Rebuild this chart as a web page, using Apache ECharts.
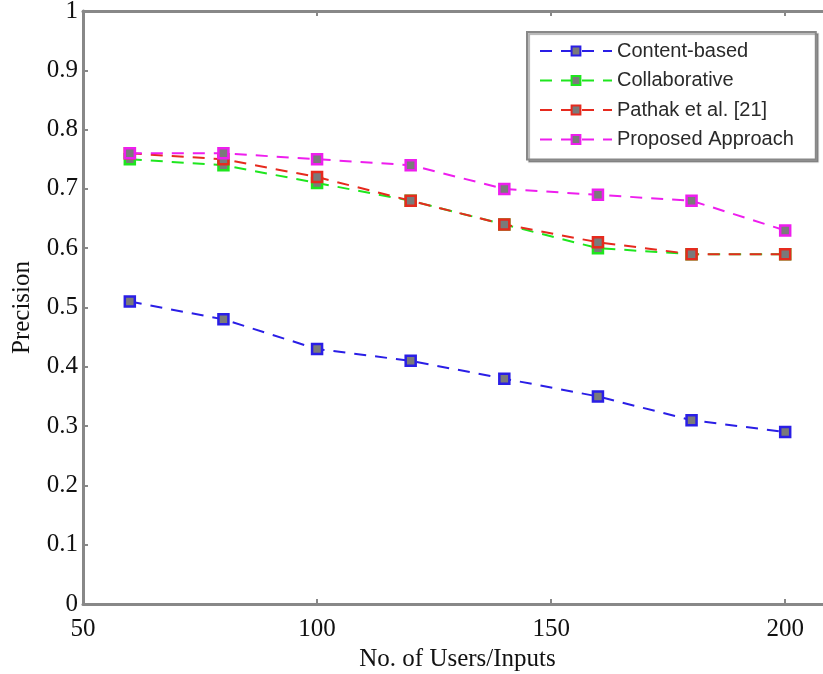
<!DOCTYPE html>
<html><head><meta charset="utf-8">
<script src="https://cdn.jsdelivr.net/npm/echarts@6/dist/echarts.min.js"></script>
<style>html,body{margin:0;padding:0;background:#fff;overflow:hidden}#c{width:823px;height:674px}</style>
</head><body><div id="c"></div>
<script>
const users = [60, 80, 100, 120, 140, 160, 180, 200];
const contentBased = [0.51, 0.48, 0.43, 0.41, 0.38, 0.35, 0.31, 0.29];
const collaborative = [0.75, 0.74, 0.71, 0.68, 0.64, 0.60, 0.59, 0.59];
const pathak = [0.76, 0.75, 0.72, 0.68, 0.64, 0.61, 0.59, 0.59];
const proposed = [0.76, 0.76, 0.75, 0.74, 0.70, 0.69, 0.68, 0.63];
const seriesNames = ['Content-based', 'Collaborative', 'Pathak et al. [21]', 'Proposed Approach'];
const colors = ['#2a1ee6', '#1ee61e', '#e62a1e', '#ee1eee'];
const allData = [contentBased, collaborative, pathak, proposed];

const serif = 'Liberation Serif, Times New Roman, serif';
const chart = echarts.init(document.getElementById('c'));
chart.setOption({
  animation: false,
  backgroundColor: '#fff',
  grid: { left: 83, top: 11, width: 749, height: 593, outerBoundsMode: 'none', containLabel: false },
  legend: {
    left: 527, top: 32, orient: 'vertical',
    data: seriesNames,
    itemWidth: 72, itemHeight: 11, itemGap: 9.5,
    padding: [9, 22, 10, 12],
    borderColor: '#888', borderWidth: 2,
    backgroundColor: '#fff',
    shadowColor: 'rgba(0,0,0,0.3)', shadowOffsetX: 2, shadowOffsetY: 2, shadowBlur: 1,
    textStyle: { fontFamily: 'Liberation Sans, Arial, sans-serif', fontSize: 20, lineHeight: 20, color: '#2a2a2a' }
  },
  xAxis: [{
    type: 'value', min: 50, max: 210, interval: 50,
    name: 'No. of Users/Inputs', nameLocation: 'middle', nameGap: 43,
    nameTextStyle: { fontFamily: serif, fontSize: 25, color: '#111' },
    axisLine: { lineStyle: { color: '#888', width: 3 } },
    axisTick: { inside: true, length: 5, lineStyle: { color: '#888', width: 2 } },
    axisLabel: { fontFamily: serif, fontSize: 25, color: '#111', margin: 13, showMaxLabel: false },
    splitLine: { show: false }
  }, {
    type: 'value', position: 'top', min: 50, max: 210, interval: 50,
    axisLine: { lineStyle: { color: '#888', width: 3 } },
    axisTick: { inside: true, length: 5, lineStyle: { color: '#888', width: 2 } },
    axisLabel: { show: false }, splitLine: { show: false }
  }],
  yAxis: {
    type: 'value', min: 0, max: 1, interval: 0.1,
    name: 'Precision', nameLocation: 'middle', nameGap: 48,
    nameTextStyle: { fontFamily: serif, fontSize: 25, color: '#111' },
    axisLine: { lineStyle: { color: '#888', width: 3 } },
    axisTick: { inside: true, length: 5, lineStyle: { color: '#888', width: 2 } },
    axisLabel: { fontFamily: serif, fontSize: 25, color: '#111', margin: 5,
      formatter: v => (v === 0 || v === 1) ? String(v) : v.toFixed(1) },
    splitLine: { show: false }
  },
  series: allData.map((d, i) => ({
    name: seriesNames[i], type: 'line',
    data: users.map((u, j) => [u, d[j]]),
    symbol: 'rect', symbolSize: 10,
    itemStyle: { color: '#7a7a7a', borderColor: colors[i], borderWidth: 2.5 },
    lineStyle: { color: colors[i], width: 2, type: [12, 9] },
    z: 2 + i
  }))
});
</script></body></html>
